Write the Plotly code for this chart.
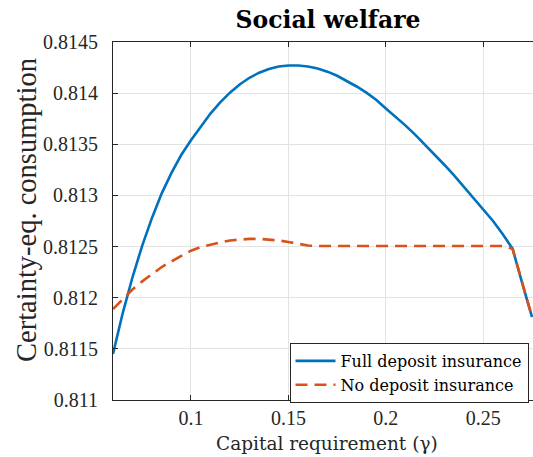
import plotly.graph_objects as go

gamma = [0.060, 0.065, 0.070, 0.075, 0.080, 0.085, 0.090, 0.095, 0.100, 0.105,
         0.110, 0.115, 0.120, 0.125, 0.130, 0.135, 0.140, 0.145, 0.150, 0.155,
         0.160, 0.165, 0.170, 0.175, 0.180, 0.185, 0.190, 0.195, 0.200, 0.205,
         0.210, 0.215, 0.220, 0.225, 0.230, 0.235, 0.240, 0.245, 0.250, 0.255,
         0.260, 0.265, 0.270, 0.275]

full_di = [0.811450, 0.811850, 0.812200, 0.812510, 0.812780, 0.813020, 0.813220, 0.813395, 0.813540, 0.813675,
           0.813800, 0.813910, 0.814005, 0.814085, 0.814150, 0.814200, 0.814235, 0.814260, 0.814270, 0.814270,
           0.814260, 0.814240, 0.814210, 0.814170, 0.814120, 0.814065, 0.814005, 0.813935, 0.813850, 0.813770,
           0.813685, 0.813595, 0.813500, 0.813400, 0.813300, 0.813195, 0.813085, 0.812975, 0.812865, 0.812750,
           0.812620, 0.812480, 0.812140, 0.811810]

no_di = [0.811890, 0.811990, 0.812080, 0.812160, 0.812230, 0.812300, 0.812355, 0.812405, 0.812460, 0.812495,
         0.812520, 0.812540, 0.812560, 0.812570, 0.812575, 0.812575, 0.812570, 0.812560, 0.812545, 0.812525,
         0.812510, 0.812505, 0.812505, 0.812505, 0.812505, 0.812505, 0.812505, 0.812505, 0.812505, 0.812505,
         0.812505, 0.812505, 0.812505, 0.812505, 0.812505, 0.812505, 0.812505, 0.812505, 0.812505, 0.812505,
         0.812505, 0.812480, 0.812140, 0.811810]

x_ticks = [0.1, 0.15, 0.2, 0.25]
x_tick_labels = ["0.1", "0.15", "0.2", "0.25"]
y_ticks = [0.811, 0.8115, 0.812, 0.8125, 0.813, 0.8135, 0.814, 0.8145]
y_tick_labels = ["0.811", "0.8115", "0.812", "0.8125", "0.813", "0.8135", "0.814", "0.8145"]

BLUE = "#0072BD"
ORANGE = "#D95319"
AX = "#262626"
GRID = "#e3e3e3"
TICKFONT = dict(family="Liberation Serif", size=20, color=AX)
LATEXFONT = "DejaVu Serif, Liberation Serif, serif"

W, H = 533, 457
ML, MR, MT, MB = 113, 0, 42, 57
plot_w = W - ML - MR
plot_h = H - MT - MB

fig = go.Figure()
fig.add_trace(go.Scatter(x=gamma, y=full_di, mode="lines", name="Full deposit insurance",
                         line=dict(color=BLUE, width=2.6)))
fig.add_trace(go.Scatter(x=gamma, y=no_di, mode="lines", name="No deposit insurance",
                         line=dict(color=ORANGE, width=2.6, dash="12px,7px")))

fig.update_layout(
    width=W, height=H,
    margin=dict(l=ML, r=MR, t=MT, b=MB),
    plot_bgcolor="white", paper_bgcolor="white",
    title=dict(text="<b>Social welfare</b>", x=328 / W, xref="container", xanchor="center",
               y=1 - 20 / H, yref="container", yanchor="middle",
               font=dict(family=LATEXFONT, size=23.5, color="black")),
    showlegend=True,
    legend=dict(x=(289.5 - ML) / plot_w, y=(400 - 343) / plot_h, xanchor="left", yanchor="top",
                bordercolor=AX, borderwidth=1, bgcolor="white",
                font=dict(family=LATEXFONT, size=16, color="black"),
                tracegroupgap=0, itemwidth=40),
    xaxis=dict(range=[0.06, 0.2755], tickvals=x_ticks, ticktext=x_tick_labels,
               showgrid=True, gridcolor=GRID, gridwidth=1, zeroline=False,
               showline=True, linecolor=AX, linewidth=1, mirror="ticks",
               ticks="inside", ticklen=5, tickcolor=AX, tickfont=TICKFONT),
    yaxis=dict(range=[0.811, 0.8145], tickvals=y_ticks, ticktext=y_tick_labels,
               showgrid=True, gridcolor=GRID, gridwidth=1, zeroline=False,
               showline=True, linecolor=AX, linewidth=1, mirror=False,
               ticks="inside", ticklen=5, tickcolor=AX, tickfont=TICKFONT,
               ticklabelstandoff=10),
    annotations=[
        dict(text="Capital requirement (γ)", x=(327 - ML) / plot_w, y=-(443 - 400) / plot_h,
             xref="paper", yref="paper", xanchor="center", yanchor="middle", showarrow=False,
             font=dict(family=LATEXFONT, size=18.5, color=AX)),
        dict(text="Certainty-eq. consumption", x=-(ML - 27) / plot_w, y=(400 - 210) / plot_h,
             xref="paper", yref="paper", xanchor="center", yanchor="middle", showarrow=False,
             textangle=-90, font=dict(family="Liberation Serif", size=28.5, color=AX)),
    ],
)

fig.write_html("out.html", config={"displayModeBar": False},
               post_script="document.body.style.margin='0px';")
